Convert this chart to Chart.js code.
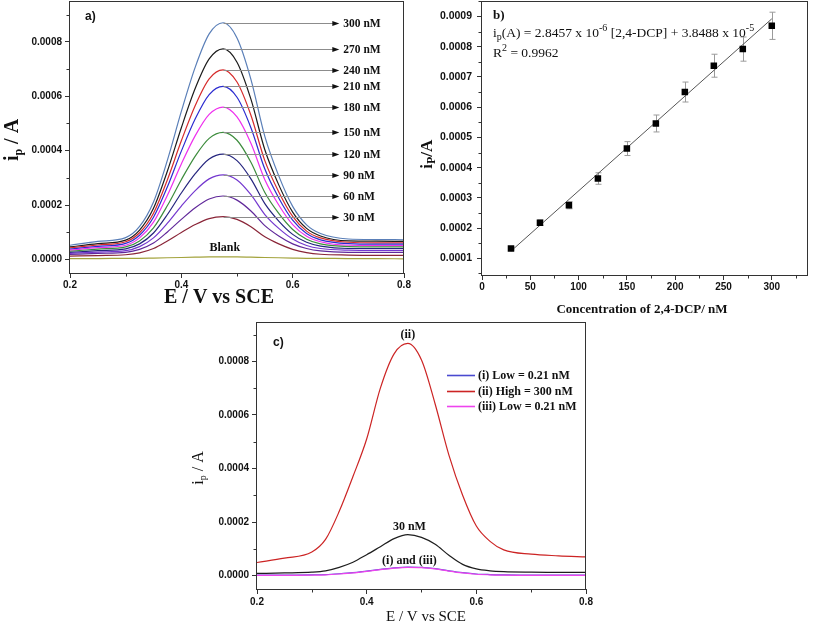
<!DOCTYPE html>
<html>
<head>
<meta charset="utf-8">
<script src="https://cdn.jsdelivr.net/npm/chart.js@4.4.1/dist/chart.umd.min.js"></script>
<style>
html, body { margin: 0; padding: 0; background: #fff; overflow: hidden; }
body { width: 813px; height: 623px; position: relative; }
.box { position: absolute; }
</style>
</head>
<body>
<div class="box" style="left:0;top:-10px;width:420px;height:318px"><canvas id="chartA"></canvas></div>
<div class="box" style="left:412px;top:-10px;width:401px;height:330px"><canvas id="chartB"></canvas></div>
<div class="box" style="left:185px;top:305px;width:430px;height:318px"><canvas id="chartC"></canvas></div>
<script>
// potential axis (V vs SCE), shared by panels a and c
const potential = [0.2, 0.25, 0.3, 0.325, 0.35, 0.375, 0.4, 0.425, 0.45, 0.475, 0.5, 0.525, 0.55, 0.575, 0.6, 0.625, 0.65, 0.7, 0.75, 0.8];

// panel a: currents in µA
const i300 = [52, 66, 80, 121, 211, 365, 544, 707, 829, 870, 814, 662, 452, 307, 195, 127, 95, 75, 73, 72];
const i270 = [46, 58, 71, 108, 188, 325, 484, 629, 737, 774, 725, 589, 403, 274, 174, 114, 86, 68, 67, 66];
const i240 = [42, 53, 65, 98, 170, 293, 436, 566, 664, 697, 652, 530, 363, 248, 158, 104, 79, 63, 61, 61];
const i210 = [38, 48, 59, 89, 155, 267, 398, 517, 606, 636, 596, 484, 332, 226, 144, 95, 72, 58, 56, 56];
const i180 = [34, 43, 52, 79, 137, 236, 351, 455, 533, 560, 524, 427, 293, 200, 128, 85, 65, 52, 51, 51];
const i150 = [30, 38, 46, 68, 116, 198, 293, 380, 445, 467, 438, 357, 246, 169, 110, 74, 57, 47, 46, 46];
const i120 = [26, 32, 39, 57, 97, 165, 244, 315, 369, 387, 363, 296, 205, 141, 92, 63, 49, 40, 40, 40];
const i90 = [22, 27, 32, 47, 79, 133, 196, 253, 296, 311, 292, 238, 165, 114, 75, 51, 40, 34, 33, 33];
const i60 = [18, 22, 26, 37, 60, 101, 147, 190, 222, 233, 218, 178, 124, 86, 57, 40, 31, 26, 26, 26];
const i30 = [12, 14, 17, 24, 40, 68, 99, 128, 150, 157, 147, 120, 83, 57, 37, 25, 19, 16, 15, 15];
const iBlank = [3, 3, 4, 4, 5, 6, 7, 8, 9, 9, 9, 8, 7, 6, 5, 4, 4, 3, 3, 2];
const aSeries = [i300, i270, i240, i210, i180, i150, i120, i90, i60, i30];
const aNames = ['300 nM', '270 nM', '240 nM', '210 nM', '180 nM', '150 nM', '120 nM', '90 nM', '60 nM', '30 nM'];
const aColors = ['#5a7fb8', '#1c1c1c', '#d62b2b', '#2b2bd0', '#ee30ee', '#3c8c3c', '#25257e', '#7438cf', '#60289a', '#8a2538'];

// panel b: calibration
const concentration = [30, 60, 90, 120, 150, 180, 210, 240, 270, 300];
const peakCurrent = [133, 218, 276, 364, 463, 546, 650, 737, 792, 869];
const peakError = [5, 9, 12, 19, 23, 28, 33, 38, 40, 45];
const fitX = [30, 300];
const fitY = [124, 892];

// panel c: currents in µA
const cLow1 = [2, 2, 3, 4, 7, 11, 17, 23, 29, 32, 31, 26, 18, 11, 6, 4, 3, 2, 2, 2];
const cHigh = [49, 65, 88, 135, 240, 370, 510, 700, 828, 867, 805, 640, 450, 300, 185, 128, 96, 80, 74, 70];
const cLow3 = [1, 1, 2, 3, 6, 10, 16, 22, 28, 31, 30, 25, 17, 10, 5, 3, 2, 1, 1, 1];
const c30 = [8, 10, 13, 18, 31, 50, 78, 108, 138, 153, 143, 117, 76, 42, 25, 18, 15, 13, 12, 12];
const cNames = ['(i) Low = 0.21 nM', '(ii) High = 300 nM', '(iii) Low = 0.21 nM'];

// ticks
const eTicks = [0.2, 0.4, 0.6, 0.8];
const eLabels = ['0.2', '0.4', '0.6', '0.8'];
const eMinor = [0.3, 0.5, 0.7];
const iTicks = [0, 200, 400, 600, 800];
const iLabels = ['0.0000', '0.0002', '0.0004', '0.0006', '0.0008'];
const iMinor = [100, 300, 500, 700, 900];
const concTicks = [0, 50, 100, 150, 200, 250, 300];
const concLabels = ['0', '50', '100', '150', '200', '250', '300'];
const concMinor = [25, 75, 125, 175, 225, 275, 325];
const bTicks = [100, 200, 300, 400, 500, 600, 700, 800, 900];
const bLabels = ['0.0001', '0.0002', '0.0003', '0.0004', '0.0005', '0.0006', '0.0007', '0.0008', '0.0009'];
const bMinor = [50, 150, 250, 350, 450, 550, 650, 750, 850, 950];

const serif = "'Liberation Serif','Times New Roman',serif";
const sans = "'Liberation Sans',Arial,sans-serif";

const pts = (xs, ys) => xs.map((x, k) => ({ x: x, y: ys[k] }));

function fontOf(p) {
    return (p.bold ? 'bold ' : '') + p.size + 'px ' + (p.family || serif);
}
function richText(ctx, parts, x, y, align) {
    let w = 0;
    parts.forEach(p => { ctx.font = fontOf(p); w += ctx.measureText(p.t).width; });
    let cx = align === 'center' ? x - w / 2 : x;
    ctx.textAlign = 'left';
    ctx.textBaseline = 'middle';
    parts.forEach(p => {
        ctx.font = fontOf(p);
        ctx.fillText(p.t, cx, y + (p.dy || 0));
        cx += ctx.measureText(p.t).width;
    });
}
function rotText(ctx, parts, x, y) {
    ctx.save();
    ctx.translate(x, y);
    ctx.rotate(-Math.PI / 2);
    richText(ctx, parts, 0, 0, 'center');
    ctx.restore();
}

function axis(min, max, ticks, labels, fit, pad, size) {
    return {
        type: 'linear', min: min, max: max,
        afterBuildTicks: s => { s.ticks = ticks.map(v => ({ value: v })); },
        afterFit: fit,
        grid: { display: true, drawOnChartArea: false, drawTicks: true, tickLength: 5, tickColor: '#333', tickWidth: 1 },
        border: { display: false },
        ticks: {
            autoSkip: false, maxRotation: 0, padding: pad, color: '#111',
            font: { family: sans, size: size || 10, weight: 'bold' },
            callback: (v, i) => labels[i]
        }
    };
}

function framePlugin(minorX, minorY) {
    return {
        id: 'frame',
        afterDraw(chart) {
            const { ctx, chartArea: a, scales: { x, y } } = chart;
            ctx.save();
            ctx.strokeStyle = '#333';
            ctx.lineWidth = 1;
            const l = Math.round(a.left) - 0.5, t = Math.round(a.top) + 0.5;
            const r = Math.round(a.right) - 0.5, b = Math.round(a.bottom) + 0.5;
            ctx.strokeRect(l, t, r - l, b - t);
            ctx.beginPath();
            minorX.forEach(v => {
                const px = Math.round(x.getPixelForValue(v)) + 0.5;
                ctx.moveTo(px, b); ctx.lineTo(px, b + 3);
            });
            minorY.forEach(v => {
                const py = Math.round(y.getPixelForValue(v)) + 0.5;
                ctx.moveTo(l, py); ctx.lineTo(l - 3, py);
            });
            ctx.stroke();
            ctx.restore();
        }
    };
}

const curve = (data, color) => ({
    data: data, borderColor: color, borderWidth: 1.2, pointRadius: 0,
    cubicInterpolationMode: 'monotone', fill: false
});

Chart.defaults.font.family = sans;
Chart.defaults.animation = false;
Chart.defaults.devicePixelRatio = 1;

// ---------- panel a ----------
const aLabelsPlugin = {
    id: 'aLabels',
    afterDraw(chart) {
        const { ctx, chartArea: a, scales: { x, y } } = chart;
        ctx.save();
        const x0 = x.getPixelForValue(0.476), x1 = x.getPixelForValue(0.682);
        aSeries.forEach((s, k) => {
            const py = Math.round(y.getPixelForValue(Math.max(...s))) + 0.5;
            ctx.strokeStyle = '#8c8c8c';
            ctx.lineWidth = 1;
            ctx.beginPath(); ctx.moveTo(x0, py); ctx.lineTo(x1 - 4, py); ctx.stroke();
            ctx.fillStyle = '#111';
            ctx.beginPath(); ctx.moveTo(x1 + 1, py); ctx.lineTo(x1 - 6, py - 2.5); ctx.lineTo(x1 - 6, py + 2.5); ctx.closePath(); ctx.fill();
            richText(ctx, [{ t: aNames[k], size: 11.5, bold: true }], x1 + 5, py + 0.5, 'left');
        });
        ctx.fillStyle = '#111';
        richText(ctx, [{ t: 'Blank', size: 12, bold: true }], x.getPixelForValue(0.478), y.getPixelForValue(43), 'center');
        richText(ctx, [{ t: 'a)', size: 12, bold: true, family: sans }], a.left + 15, a.top + 16, 'left');
        richText(ctx, [{ t: 'E / V vs SCE', size: 20, bold: true }], a.left + 149, a.bottom + 25, 'center');
        rotText(ctx, [{ t: 'i', size: 20, bold: true }, { t: 'p', size: 12, bold: true, dy: 6 }, { t: ' / A', size: 20, bold: true }], a.left - 57, a.top + 139);
        ctx.restore();
    }
};

new Chart(document.getElementById('chartA'), {
    type: 'line',
    data: {
        datasets: [curve(pts(potential, iBlank), '#a3a33c')].concat(
            aSeries.slice().reverse().map((s, k) => curve(pts(potential, s), aColors[aSeries.length - 1 - k])))
    },
    options: {
        responsive: true, maintainAspectRatio: false,
        layout: { padding: { top: 11, right: 16, left: 0, bottom: 0 } },
        plugins: { legend: { display: false }, tooltip: { enabled: false } },
        scales: {
            x: axis(0.2, 0.8, eTicks, eLabels, s => { s.height = 35; }, 1),
            y: axis(-50, 950, iTicks, iLabels, s => { s.width = 70; }, 3)
        }
    },
    plugins: [framePlugin(eMinor, iMinor), aLabelsPlugin]
});

// ---------- panel b ----------
const bPlugin = {
    id: 'bExtras',
    beforeDatasetsDraw(chart) {
        const { ctx, scales: { x, y } } = chart;
        ctx.save();
        ctx.strokeStyle = '#9a9a9a';
        ctx.lineWidth = 1;
        ctx.beginPath();
        concentration.forEach((c, k) => {
            const px = Math.round(x.getPixelForValue(c)) + 0.5;
            const t = y.getPixelForValue(peakCurrent[k] + peakError[k]);
            const b = y.getPixelForValue(peakCurrent[k] - peakError[k]);
            ctx.moveTo(px, t); ctx.lineTo(px, b);
            ctx.moveTo(px - 3, t); ctx.lineTo(px + 3, t);
            ctx.moveTo(px - 3, b); ctx.lineTo(px + 3, b);
        });
        ctx.stroke();
        ctx.restore();
    },
    afterDraw(chart) {
        const { ctx, chartArea: a } = chart;
        ctx.save();
        ctx.fillStyle = '#111';
        richText(ctx, [{ t: 'b)', size: 13, bold: true }], a.left + 11, a.top + 14, 'left');
        richText(ctx, [
            { t: 'i', size: 13.5 }, { t: 'p', size: 10, dy: 4 },
            { t: '(A) = 2.8457 x 10', size: 13.5 }, { t: '-6', size: 10, dy: -5 },
            { t: ' [2,4-DCP] + 3.8488 x 10', size: 13.5 }, { t: '-5', size: 10, dy: -5 }
        ], a.left + 11, a.top + 32, 'left');
        richText(ctx, [{ t: 'R', size: 13.5 }, { t: '2', size: 10, dy: -5 }, { t: ' = 0.9962', size: 13.5 }], a.left + 11, a.top + 52, 'left');
        richText(ctx, [{ t: 'Concentration of 2,4-DCP/ nM', size: 13, bold: true }], a.left + 160, a.bottom + 35, 'center');
        rotText(ctx, [{ t: 'i', size: 17, bold: true }, { t: 'P', size: 12, bold: true, dy: 4 }, { t: '/A', size: 17, bold: true }], a.left - 54, a.top + 153);
        ctx.restore();
    }
};

new Chart(document.getElementById('chartB'), {
    type: 'scatter',
    data: {
        datasets: [
            {
                data: pts(concentration, peakCurrent), pointStyle: 'rect', pointRadius: 4.6,
                backgroundColor: '#000', borderColor: '#000', borderWidth: 0, order: 0
            },
            {
                type: 'line', data: pts(fitX, fitY), borderColor: '#555', borderWidth: 1,
                pointRadius: 0, order: 1
            }
        ]
    },
    options: {
        responsive: true, maintainAspectRatio: false,
        layout: { padding: { top: 11, right: 5, left: 0, bottom: 0 } },
        plugins: { legend: { display: false }, tooltip: { enabled: false } },
        scales: {
            x: axis(0, 337.5, concTicks, concLabels, s => { s.height = 45; }, 1, 10),
            y: axis(45, 950, bTicks, bLabels, s => { s.width = 70; }, 5, 10.5)
        }
    },
    plugins: [framePlugin(concMinor, bMinor), bPlugin]
});

// ---------- panel c ----------
const cColors = ['#4a4ad0', '#cc2424', '#ee44ee'];
const cPlugin = {
    id: 'cExtras',
    afterDraw(chart) {
        const { ctx, chartArea: a, scales: { x, y } } = chart;
        ctx.save();
        ctx.fillStyle = '#111';
        [0, 1, 2].forEach(k => {
            const py = Math.round(a.top + 53 + k * 15.5) + 0.5;
            ctx.strokeStyle = cColors[k];
            ctx.lineWidth = 1.6;
            ctx.beginPath(); ctx.moveTo(a.left + 190, py); ctx.lineTo(a.left + 218, py); ctx.stroke();
            richText(ctx, [{ t: cNames[k], size: 12, bold: true }], a.left + 221, py, 'left');
        });
        richText(ctx, [{ t: '(ii)', size: 12, bold: true }], x.getPixelForValue(0.475), y.getPixelForValue(898), 'center');
        richText(ctx, [{ t: '30 nM', size: 12, bold: true }], x.getPixelForValue(0.478), y.getPixelForValue(182), 'center');
        richText(ctx, [{ t: '(i) and (iii)', size: 12, bold: true }], x.getPixelForValue(0.478), y.getPixelForValue(55), 'center');
        richText(ctx, [{ t: 'c)', size: 12, bold: true, family: sans }], a.left + 16, a.top + 21, 'left');
        richText(ctx, [{ t: 'E / V vs SCE', size: 15 }], a.left + 169, a.bottom + 28, 'center');
        rotText(ctx, [{ t: 'i', size: 16 }, { t: 'p', size: 10, dy: 4 }, { t: ' / A', size: 16 }], a.left - 58, a.top + 146);
        ctx.restore();
    }
};

// first dataset is painted last (on top)
new Chart(document.getElementById('chartC'), {
    type: 'line',
    data: {
        datasets: [
            curve(pts(potential, cLow3), cColors[2]),
            curve(pts(potential, cLow1), cColors[0]),
            curve(pts(potential, c30), '#1e1e1e'),
            curve(pts(potential, cHigh), cColors[1])
        ]
    },
    options: {
        responsive: true, maintainAspectRatio: false,
        layout: { padding: { top: 17, right: 29, left: 0, bottom: 0 } },
        plugins: { legend: { display: false }, tooltip: { enabled: false } },
        scales: {
            x: axis(0.2, 0.8, eTicks, eLabels, s => { s.height = 34; }, 2),
            y: axis(-50, 947, iTicks, iLabels, s => { s.width = 72; }, 3)
        }
    },
    plugins: [framePlugin(eMinor, iMinor), cPlugin]
});
</script>
</body>
</html>
